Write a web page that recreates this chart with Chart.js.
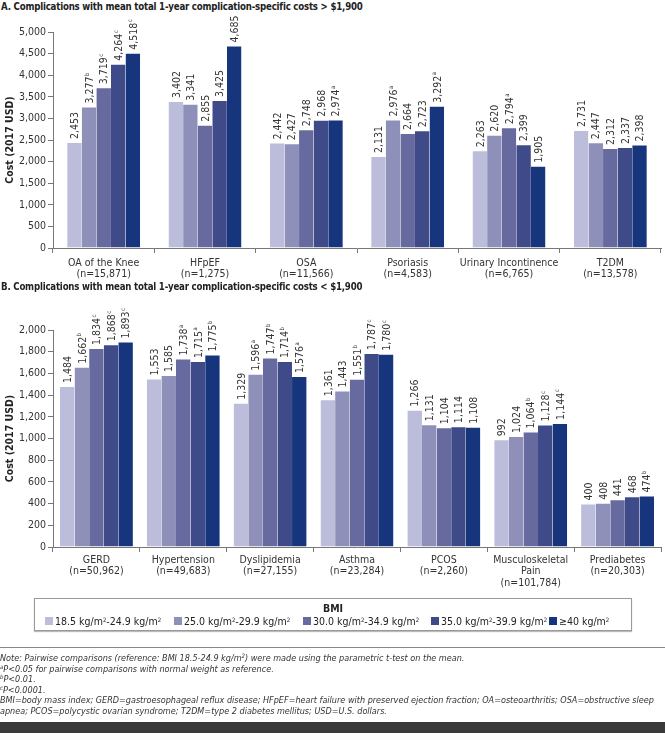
<!DOCTYPE html>
<html>
<head>
<meta charset="utf-8">
<script src="https://cdn.jsdelivr.net/npm/chart.js@4"></script>
<style>
  body { margin: 0; width: 665px; height: 733px; position: relative; background: #fff;
         font-family: "Liberation Sans Narrow", "DejaVu Sans Condensed", "Liberation Sans", sans-serif; color: #222; overflow: hidden; }
  .ttl { position: absolute; left: 1px; font-weight: bold; font-size: 9.6px; letter-spacing: -0.2px; white-space: nowrap; }
  .cv { position: absolute; left: 0; }
  #legend { position: absolute; left: 34px; top: 598px; width: 596px; height: 31px; border: 1px solid #999;
            box-shadow: 0 1px 1px #bbb; font-size: 10.5px; }
  #legend .lt { text-align: center; font-weight: bold; margin-top: 3px; }
  #legend .items { position: relative; height: 14px; }
  #legend .it { position: absolute; top: 1px; white-space: nowrap; }
  #legend .sw { display: inline-block; width: 8px; height: 8px; margin-right: 2px; }
  #notes { position: absolute; left: 0; top: 647px; width: 665px; border-top: 1px solid #888; padding-top: 5px;
           font-style: italic; font-size: 9px; line-height: 10.5px; color: #333; }
  #notes div { white-space: nowrap; }
  sup { font-size: 6px; vertical-align: 3px; line-height: 0; }
  #bar { position: absolute; left: 0; top: 722px; width: 665px; height: 11px; background: #3a3a3a; }
</style>
</head>
<body>
<div class="ttl" style="top:1px">A. Complications with mean total 1-year complication-specific costs &gt; $1,900</div>
<canvas id="chartA" class="cv" style="top:12px" width="665" height="270"></canvas>
<div class="ttl" style="top:281px">B. Complications with mean total 1-year complication-specific costs &lt; $1,900</div>
<canvas id="chartB" class="cv" style="top:292px" width="665" height="300"></canvas>
<div id="legend"><div class="lt">BMI</div><div class="items" id="legItems"></div></div>
<div id="notes">
  <div>Note: Pairwise comparisons (reference: BMI 18.5-24.9 kg/m<sup>2</sup>) were made using the parametric t-test on the mean.</div>
  <div><sup>a</sup>P&lt;0.05 for pairwise comparisons with normal weight as reference.</div>
  <div><sup>b</sup>P&lt;0.01.</div>
  <div><sup>c</sup>P&lt;0.0001.</div>
  <div>BMI=body mass index; GERD=gastroesophageal reflux disease; HFpEF=heart failure with preserved ejection fraction; OA=osteoarthritis; OSA=obstructive sleep</div>
  <div>apnea; PCOS=polycystic ovarian syndrome; T2DM=type 2 diabetes mellitus; USD=U.S. dollars.</div>
</div>
<div id="bar"></div>
<script>
// BMI classes (legend)
var bmiClasses = ["18.5 kg/m²-24.9 kg/m²", "25.0 kg/m²-29.9 kg/m²", "30.0 kg/m²-34.9 kg/m²", "35.0 kg/m²-39.9 kg/m²", "≥40 kg/m²"];
var bmiColors = ["#bcbdda", "#8e90ba", "#666a9f", "#3f4b89", "#17357c"];

// Panel A: costs > $1,900
var catsA = [["OA of the Knee", "(n=15,871)"], ["HFpEF", "(n=1,275)"], ["OSA", "(n=11,566)"],
             ["Psoriasis", "(n=4,583)"], ["Urinary Incontinence", "(n=6,765)"], ["T2DM", "(n=13,578)"]];
var a185 = [2453, 3402, 2442, 2131, 2263, 2731];
var a250 = [3277, 3341, 2427, 2976, 2620, 2447];
var a300 = [3719, 2855, 2748, 2664, 2794, 2312];
var a350 = [4264, 3425, 2968, 2723, 2399, 2337];
var a400 = [4518, 4685, 2974, 3292, 1905, 2398];
var supA185 = ["", "", "", "", "", ""];
var supA250 = ["b", "", "", "a", "", ""];
var supA300 = ["c", "", "", "", "a", ""];
var supA350 = ["c", "", "", "", "", ""];
var supA400 = ["c", "", "a", "a", "", ""];

// Panel B: costs < $1,900
var catsB = [["GERD", "(n=50,962)"], ["Hypertension", "(n=49,683)"], ["Dyslipidemia", "(n=27,155)"],
             ["Asthma", "(n=23,284)"], ["PCOS", "(n=2,260)"], ["Musculoskeletal", "Pain", "(n=101,784)"],
             ["Prediabetes", "(n=20,303)"]];
var b185 = [1484, 1553, 1329, 1361, 1266, 992, 400];
var b250 = [1662, 1585, 1596, 1443, 1131, 1024, 408];
var b300 = [1834, 1738, 1747, 1551, 1104, 1064, 441];
var b350 = [1868, 1715, 1714, 1787, 1114, 1128, 468];
var b400 = [1893, 1775, 1576, 1780, 1108, 1144, 474];
var supB185 = ["", "", "", "", "", "", ""];
var supB250 = ["b", "", "a", "", "", "", ""];
var supB300 = ["c", "a", "b", "b", "", "b", ""];
var supB350 = ["c", "a", "b", "c", "", "c", ""];
var supB400 = ["c", "b", "a", "c", "", "c", "b"];

var FONT = '"Liberation Sans Narrow", "DejaVu Sans Condensed", "Liberation Sans", sans-serif';

// rotated value labels above each bar, with significance superscript
var valueLabels = {
    id: "valueLabels",
    afterDatasetsDraw: function (chart) {
        var ctx = chart.ctx;
        chart.data.datasets.forEach(function (ds, i) {
            chart.getDatasetMeta(i).data.forEach(function (bar, j) {
                var txt = ds.data[j].toLocaleString("en-US");
                var sup = ds.sups[j];
                ctx.save();
                ctx.translate(bar.x, bar.y - 3);
                ctx.rotate(-Math.PI / 2);
                ctx.fillStyle = "#333";
                ctx.textAlign = "left";
                ctx.textBaseline = "middle";
                ctx.font = "10.5px " + FONT;
                ctx.fillText(txt, 0, 1);
                if (sup) {
                    var w = ctx.measureText(txt).width;
                    ctx.font = "6px " + FONT;
                    ctx.fillText(sup, w + 0.5, -2);
                }
                ctx.restore();
            });
        });
    }
};

function makeSets(vals, sups) {
    return vals.map(function (v, i) {
        return {
            label: bmiClasses[i],
            data: v,
            sups: sups[i],
            backgroundColor: bmiColors[i],
            borderColor: "rgba(255,255,255,0.55)",
            borderWidth: { top: 1, left: 0, right: 0, bottom: 0 },
            borderSkipped: "bottom"
        };
    });
}

function makeChart(id, cats, sets, maxY, step, catPct, padTop, xHeight, xPad) {
    new Chart(document.getElementById(id).getContext("2d"), {
        type: "bar",
        data: { labels: cats, datasets: sets },
        plugins: [valueLabels],
        options: {
            responsive: false,
            animation: false,
            layout: { padding: { top: padTop, right: 4, left: 0, bottom: 0 } },
            datasets: { bar: { categoryPercentage: catPct, barPercentage: 1 } },
            plugins: { legend: { display: false }, tooltip: { enabled: false } },
            scales: {
                x: {
                    grid: { offset: true, drawOnChartArea: false, drawTicks: true, tickLength: 5, color: "#777" },
                    border: { color: "#777" },
                    ticks: { color: "#333", padding: xPad, maxRotation: 0, autoSkip: false,
                             font: { family: FONT, size: 10.5, lineHeight: 1.1 } },
                    afterFit: function (s) { s.height = xHeight; }
                },
                y: {
                    min: 0, max: maxY,
                    grid: { drawOnChartArea: false, drawTicks: true, tickLength: 5, color: "#777" },
                    border: { color: "#777" },
                    ticks: { stepSize: step, color: "#333", padding: 2,
                             font: { family: FONT, size: 10.5 },
                             callback: function (v) { return v.toLocaleString("en-US"); } },
                    title: { display: true, text: "Cost (2017 USD)", color: "#222", padding: { top: 4, bottom: 0 },
                             font: { family: FONT, size: 10.5, weight: "bold" } },
                    afterFit: function (s) { s.width = 53; }
                }
            }
        }
    });
}

makeChart("chartA", catsA, makeSets([a185, a250, a300, a350, a400], [supA185, supA250, supA300, supA350, supA400]),
          5000, 500, 0.72, 20, 34, 4);
makeChart("chartB", catsB, makeSets([b185, b250, b300, b350, b400], [supB185, supB250, supB300, supB350, supB400]),
          2000, 200, 0.84, 38, 45, 2);

// legend
var legX = [10, 139, 268, 396, 514];
var holder = document.getElementById("legItems");
bmiClasses.forEach(function (name, i) {
    var d = document.createElement("span");
    d.className = "it";
    d.style.left = legX[i] + "px";
    d.innerHTML = '<span class="sw" style="background:' + bmiColors[i] + '"></span>' +
        name.replace(/²/g, "<sup>2</sup>");
    holder.appendChild(d);
});
</script>
</body>
</html>
